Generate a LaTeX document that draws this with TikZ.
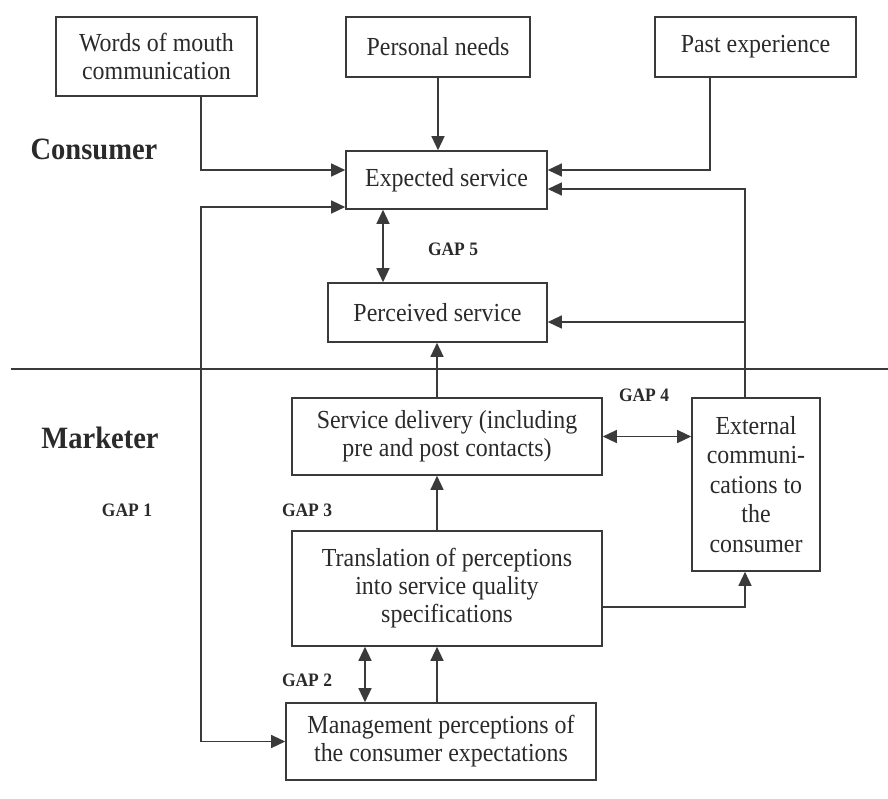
\documentclass[tikz,border=0pt]{standalone}
\usepackage{fontspec}
\setmainfont[FakeStretch=0.92]{Liberation Serif}
\usetikzlibrary{arrows.meta}
\definecolor{ink}{HTML}{3A3A3A}
\definecolor{txt}{HTML}{2A2A2A}
\begin{document}
\begin{tikzpicture}[x=1pt,y=-1pt,
  box/.style={draw=ink,line width=1.6pt,inner sep=2pt,align=center,text=txt,font=\fontsize{26}{28}\selectfont},
  arr/.style={draw=ink,line width=1.3pt,-{Triangle[length=14pt,width=13pt]}},
  arrtwo/.style={draw=ink,line width=1.3pt,{Triangle[length=14pt,width=13pt]}-{Triangle[length=14pt,width=13pt]}},
  gap/.style={text=txt,font=\fontsize{19}{20}\selectfont\bfseries},
  side/.style={text=txt,font=\fontsize{31}{32}\selectfont\bfseries}]
\useasboundingbox (0,0) rectangle (888,798);
% boxes
\node[box,minimum width=201pt,minimum height=79pt] (wom) at (156.5,56.5) {Words of mouth\\communication};
\node[box,minimum width=184pt,minimum height=60pt] (pn) at (438,47) {Personal needs};
\node[box,minimum width=201pt,minimum height=60pt] (pe) at (755.5,47) {Past experience};
\node[box,minimum width=201pt,minimum height=58pt] (exp) at (446.5,180) {Expected service};
\node[box,minimum width=219pt,minimum height=59pt] (per) at (437.5,312.5) {Perceived service};
\node[box,minimum width=310pt,minimum height=77pt] (sd) at (447,436.5) {Service delivery (including\\pre and post contacts)};
\node[box,minimum width=128pt,minimum height=173pt,font=\fontsize{26}{29.5}\selectfont] (ext) at (756,484.5) {External\\communi-\\cations to\\the\\consumer};
\node[box,minimum width=310pt,minimum height=115pt] (tr) at (447,588.5) {Translation of perceptions\\into service quality\\specifications};
\node[box,minimum width=310pt,minimum height=77pt] (mg) at (441,741.5) {Management perceptions of\\the consumer expectations};
% labels
\node[side] (lcons) at (94,149) {Consumer};
\node[side] (lmark) at (100,438) {Marketer};
\node[gap] (g5) at (453,249) {GAP 5};
\node[gap] (g4) at (644,395) {GAP 4};
\node[gap] (g1) at (127,510) {GAP 1};
\node[gap] (g3) at (307,510) {GAP 3};
\node[gap] (g2) at (307,680) {GAP 2};
% divider
\coordinate (dl) at (11,369);
\coordinate (dr) at (888,369);
\draw[ink,line width=1.3pt] (dl) -- (dr);
% connectors
\coordinate (gx) at (201,500);
\draw[arr] ([xshift=44.5pt]wom.south) |- ([yshift=10pt]exp.west);
\draw[arr] (pn.south) -- (pn.south |- exp.north);
\draw[arr] ([xshift=-45.5pt]pe.south) |- ([yshift=10pt]exp.east);
\draw[arr] ([xshift=-11pt]ext.north) |- ([yshift=-9pt]exp.east);
\draw[arr] ([xshift=-11pt]ext.north) |- ([yshift=-9.5pt]per.east);
\draw[arrtwo] ([xshift=-63.5pt]exp.south) -- ([xshift=-63.5pt]exp.south |- per.north);
\draw[arr] ([xshift=-10pt]sd.north) -- ([xshift=-10pt]sd.north |- per.south);
\draw[arrtwo] (sd.east) -- (sd.east -| ext.west);
\draw[arr] ([xshift=-10pt]tr.north) -- ([xshift=-10pt]tr.north |- sd.south);
\draw[arr] ([yshift=-18.5pt]tr.east) -| ([xshift=-11pt]ext.south);
\draw[arr] ([xshift=-4pt]mg.north) -- ([xshift=-4pt]mg.north |- tr.south);
\draw[arrtwo] ([xshift=-76pt]mg.north) -- ([xshift=-76pt]mg.north |- tr.south);
\draw[arrtwo] ([yshift=-27pt]exp.west) -| (gx) |- (mg.west);
\end{tikzpicture}
\end{document}
